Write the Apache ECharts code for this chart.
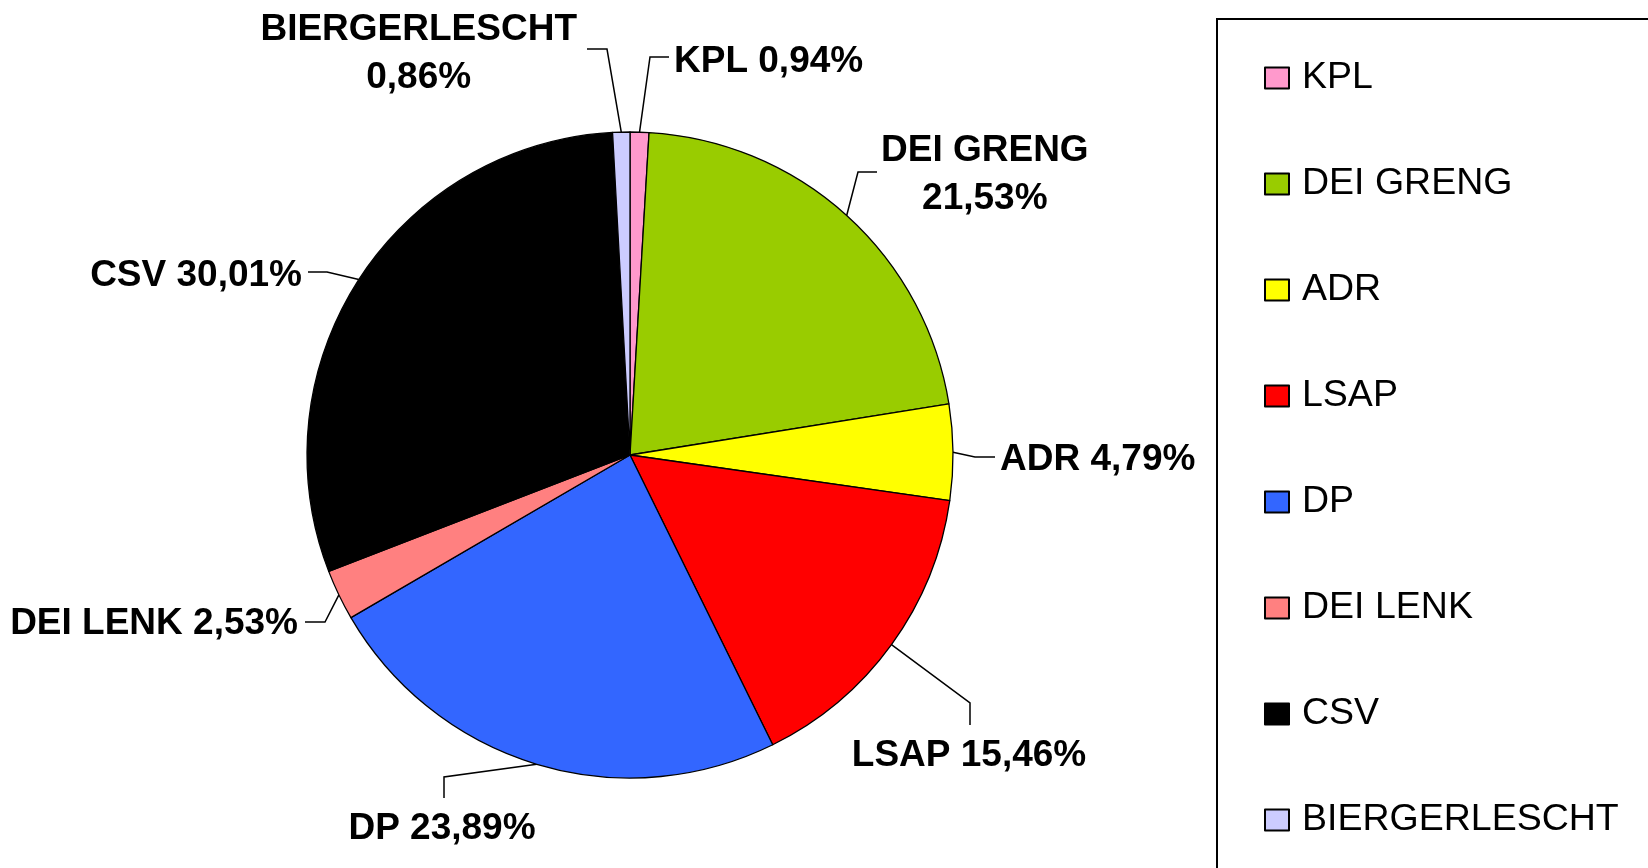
<!DOCTYPE html>
<html>
<head>
<meta charset="utf-8">
<script src="https://cdn.jsdelivr.net/npm/echarts@6/dist/echarts.min.js"></script>
<style>
  html, body { margin: 0; padding: 0; background: #ffffff; }
  #chart { width: 1648px; height: 868px; }
</style>
</head>
<body>
<div id="chart"></div>
<script>
// ---- data ----
const categories = ['KPL', 'DEI GRENG', 'ADR', 'LSAP', 'DP', 'DEI LENK', 'CSV', 'BIERGERLESCHT'];
const shares = [0.94, 21.53, 4.79, 15.46, 23.89, 2.53, 30.01, 0.86];
const colors = ['#FF99CC', '#99CC00', '#FFFF00', '#FF0000', '#3366FF', '#FF8080', '#000000', '#CCCCFF'];
const twoLineLabels = ['DEI GRENG', 'BIERGERLESCHT'];

// ---- label guide placement (annotation layout, pixels) ----
const labelGuides = {
  'KPL':           { elbow: [650, 57],  end: [669, 57],  text: [674, 62],  align: 'left' },
  'DEI GRENG':     { elbow: [858, 172], end: [877, 172], text: [881, 175], align: 'left' },
  'ADR':           { elbow: [975, 457], end: [995, 457], text: [1000, 460], align: 'left' },
  'LSAP':          { elbow: [970, 703], end: [970, 725], text: [969, 756], align: 'center' },
  'DP':            { elbow: [444, 777], end: [444, 798], text: [442, 829], align: 'center' },
  'DEI LENK':      { elbow: [325, 622], end: [305, 622], text: [298, 624], align: 'right' },
  'CSV':           { elbow: [327, 272], end: [308, 272], text: [302, 276], align: 'right' },
  'BIERGERLESCHT': { elbow: [607, 49],  end: [587, 49],  text: [577, 54],  align: 'right' }
};

const fmt = v => v.toFixed(2).replace('.', ',') + '%';

const pieData = categories.map((name, i) => ({
  name: name,
  value: shares[i],
  itemStyle: { color: colors[i] }
}));

const chart = echarts.init(document.getElementById('chart'), null, { renderer: 'canvas' });

chart.setOption({
  animation: false,
  backgroundColor: '#ffffff',
  legend: {
    orient: 'vertical',
    left: 1217,
    top: 19,
    width: 600,
    height: 1200,
    padding: [39, 90, 90, 47],
    itemGap: 66,
    itemWidth: 24,
    itemHeight: 21,
    icon: 'rect',
    borderColor: '#000000',
    borderWidth: 2,
    selectedMode: false,
    data: categories,
    textStyle: {
      fontFamily: 'Liberation Sans',
      fontSize: 37.5,
      color: '#000000',
      lineHeight: 40,
      padding: [0, 0, 0, 8]
    }
  },
  series: [{
    type: 'pie',
    center: [630, 455],
    radius: 323,
    startAngle: 90,
    clockwise: true,
    avoidLabelOverlap: false,
    minShowLabelAngle: 0,
    emphasis: { disabled: true },
    itemStyle: { borderColor: '#000000', borderWidth: 1.3 },
    label: {
      show: true,
      position: 'outside',
      color: '#000000',
      formatter: p => twoLineLabels.indexOf(p.name) >= 0
        ? '{t|' + p.name + '}\n{t|' + fmt(p.value) + '}'
        : '{t|' + p.name + ' ' + fmt(p.value) + '}',
      rich: {
        t: {
          fontFamily: 'Liberation Sans',
          fontSize: 37,
          fontWeight: 'bold',
          color: '#000000',
          lineHeight: 48,
          align: 'center'
        }
      }
    },
    labelLine: {
      show: true,
      length: 10,
      length2: 10,
      lineStyle: { color: '#000000', width: 1.5 }
    },
    labelLayout: function (p) {
      const g = labelGuides[categories[p.dataIndex]];
      const start = (p.labelLinePoints && p.labelLinePoints[0]) || g.elbow;
      return {
        x: g.text[0],
        y: g.text[1],
        align: g.align,
        verticalAlign: 'middle',
        labelLinePoints: [[start[0], start[1]], g.elbow.slice(), g.end.slice()]
      };
    },
    data: pieData
  }]
});
</script>
</body>
</html>
